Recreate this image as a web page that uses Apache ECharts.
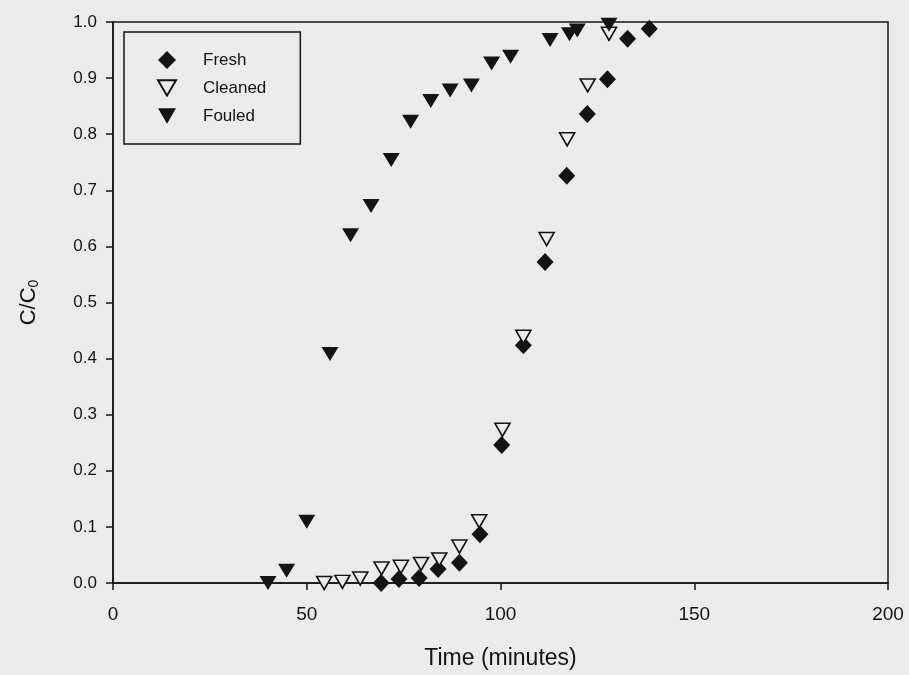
<!DOCTYPE html>
<html>
<head>
<meta charset="utf-8">
<script src="https://cdn.jsdelivr.net/npm/echarts@6/dist/echarts.min.js"></script>
<style>
  html, body { margin: 0; padding: 0; background: #ebebea; }
  #main { width: 909px; height: 675px; }
</style>
</head>
<body>
<div id="main"></div>
<script>
// time (minutes), C/C0
var freshTime = [69.2, 73.8, 79, 83.9, 89.4, 94.7, 100.3, 105.9, 111.5, 117.1, 122.4, 127.6, 132.8, 138.4];
var freshC = [0.0, 0.007, 0.009, 0.025, 0.036, 0.087, 0.246, 0.424, 0.572, 0.726, 0.836, 0.898, 0.970, 0.988];

var cleanedTime = [54.5, 59.2, 63.8, 69.3, 74.3, 79.5, 84.2, 89.4, 94.5, 100.5, 105.9, 111.9, 117.2, 122.5, 128];
var cleanedC = [0.0, 0.002, 0.008, 0.026, 0.029, 0.034, 0.042, 0.065, 0.11, 0.273, 0.439, 0.613, 0.791, 0.887, 0.979];

var fouledTime = [40, 44.8, 50, 56, 61.3, 66.6, 71.8, 76.8, 82, 87, 92.5, 97.7, 102.6, 112.8, 117.8, 119.8, 128];
var fouledC = [0.0, 0.022, 0.109, 0.408, 0.620, 0.672, 0.754, 0.822, 0.859, 0.878, 0.887, 0.926, 0.938, 0.968, 0.978, 0.985, 0.995];

var seriesNames = ["Fresh", "Cleaned", "Fouled"];

function pairs(xs, ys) {
  var out = [];
  for (var i = 0; i < xs.length; i++) out.push([xs[i], ys[i]]);
  return out;
}

var font = "Liberation Sans, Arial, sans-serif";
var ink = "#141414";
var downTri = "path://M0,0L20,0L10,17Z";

var myChart = echarts.init(document.getElementById("main"));
myChart.setOption({
  backgroundColor: "#ebebea",
  animation: false,
  grid: {
    left: 113,
    right: 21,
    top: 22,
    bottom: 92,
    show: true,
    borderColor: ink,
    borderWidth: 1.5,
    backgroundColor: "transparent"
  },
  legend: {
    orient: "vertical",
    left: 124,
    top: 32,
    data: [
      { name: seriesNames[0], icon: "diamond" },
      { name: seriesNames[1], icon: downTri },
      { name: seriesNames[2], icon: downTri }
    ],
    padding: [19, 34, 19, 33],
    itemWidth: 18,
    itemHeight: 18,
    itemGap: 10,
    borderColor: ink,
    borderWidth: 1.5,
    textStyle: {
      fontFamily: font,
      fontSize: 17,
      color: ink,
      lineHeight: 18,
      padding: [0, 0, 0, 22]
    }
  },
  xAxis: {
    type: "value",
    min: 0,
    max: 200,
    interval: 50,
    name: "Time (minutes)",
    nameLocation: "middle",
    nameGap: 64,
    nameTextStyle: { fontFamily: font, fontSize: 23, color: ink },
    splitLine: { show: false },
    axisLine: { lineStyle: { color: ink, width: 1.5 } },
    axisTick: { inside: false, length: 7, lineStyle: { color: ink, width: 1.5 } },
    axisLabel: { margin: 22, fontFamily: font, fontSize: 19, color: ink }
  },
  yAxis: {
    type: "value",
    min: 0,
    max: 1,
    interval: 0.1,
    name: "C/C{sub|0}",
    nameLocation: "middle",
    nameRotate: 90,
    nameGap: 72,
    nameTextStyle: {
      fontFamily: font,
      fontSize: 22,
      color: ink,
      rich: {
        sub: { fontFamily: font, fontSize: 14, color: ink, verticalAlign: "bottom", padding: [10, 0, 0, 0] }
      }
    },
    splitLine: { show: false },
    axisLine: { show: true, lineStyle: { color: ink, width: 1.5 } },
    axisTick: { show: true, inside: false, length: 7, lineStyle: { color: ink, width: 1.5 } },
    axisLabel: {
      margin: 16,
      fontFamily: font,
      fontSize: 17,
      color: ink,
      formatter: function (v) { return v.toFixed(1); }
    }
  },
  series: [
    {
      name: "Fresh",
      type: "scatter",
      symbol: "diamond",
      symbolSize: [17, 18],
      itemStyle: { color: ink, opacity: 1 },
      data: pairs(freshTime, freshC)
    },
    {
      name: "Cleaned",
      type: "scatter",
      symbol: downTri,
      symbolSize: [15, 13],
      itemStyle: { color: "#ebebea", borderColor: ink, borderWidth: 1.6, opacity: 1 },
      data: pairs(cleanedTime, cleanedC)
    },
    {
      name: "Fouled",
      type: "scatter",
      symbol: downTri,
      symbolSize: [17, 14],
      itemStyle: { color: ink, opacity: 1 },
      data: pairs(fouledTime, fouledC)
    }
  ]
});
</script>
</body>
</html>
